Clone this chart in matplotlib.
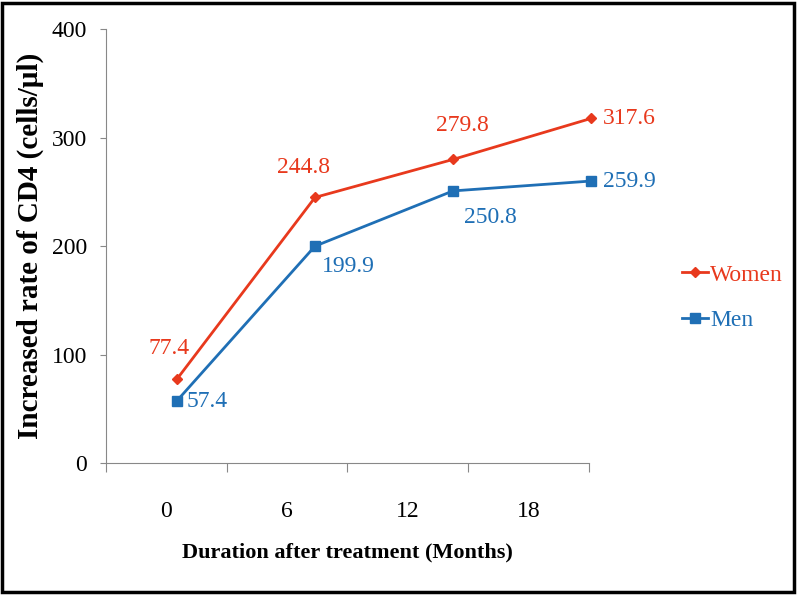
import matplotlib
matplotlib.use("Agg")
import matplotlib.pyplot as plt
from matplotlib.patches import Rectangle

plt.rcParams['font.family'] = ['Liberation Serif', 'DejaVu Serif']

months = ['0', '6', '12', '18']
women = [77.4, 244.8, 279.8, 317.6]
men = [57.4, 199.9, 250.8, 259.9]

# label offsets in pixels (dx, dy) for each point
women_off = [(-8, 31), (-11, 30), (9, 34), (12, 0)]
men_off = [(30, -1), (33, -20), (37, -27), (12, 0)]

red = '#E8391D'
blue = '#1F6FB5'

fig = plt.figure(figsize=(7.98, 5.95), dpi=100)
ax = fig.add_axes([0.1328, 0.2218, 0.6053, 0.7294])

# visible category axis
ax.set_xlim(-0.5, 3.5)
ax.set_ylim(0, 400)
ax.set_xticks([-0.5, 0.5, 1.5, 2.5, 3.5])
ax.set_xticklabels([])
ax.set_xticks(range(len(months)), minor=True)
ax.set_xticklabels(months, minor=True)
ax.tick_params(axis='x', which='major', direction='out', length=6.5, color='#888888')
ax.tick_params(axis='x', which='minor', length=0, pad=27, labelsize=17)
ax.set_yticks([0, 100, 200, 300, 400])
ax.tick_params(axis='y', direction='out', length=4.5, color='#888888', pad=9, labelsize=17)
for s in ['top', 'right']:
    ax.spines[s].set_visible(False)
for s in ['left', 'bottom']:
    ax.spines[s].set_color('#888888')

ax.set_ylabel('Increased rate of CD4 (cells/\u03bcl)', fontsize=21, fontweight='bold', labelpad=6)
ax.set_xlabel('Duration after treatment (Months)', fontsize=16, fontweight='bold', labelpad=15)

# data axis (markers sit on a slightly wider spacing than the tick labels)
ax2 = ax.twiny()
ax2.set_xlim(-0.5145, 2.9855)
ax2.set_ylim(0, 400)
ax2.axis('off')

x = range(len(months))
ax2.plot(x, women, color=red, linewidth=2, marker='D', markersize=5.5, label='Women', clip_on=False)
ax2.plot(x, men, color=blue, linewidth=2, marker='s', markersize=7, label='Men', clip_on=False)

for i in x:
    dx, dy = women_off[i]
    ha = 'left' if i == 3 else 'center'
    ax2.annotate(f'{women[i]:.1f}', (i, women[i]), xytext=(dx, dy), textcoords='offset pixels',
                 ha=ha, va='center', color=red, fontsize=17, annotation_clip=False)
    dx, dy = men_off[i]
    ax2.annotate(f'{men[i]:.1f}', (i, men[i]), xytext=(dx, dy), textcoords='offset pixels',
                 ha=ha, va='center', color=blue, fontsize=17, annotation_clip=False)

leg = fig.legend(loc='center left', bbox_to_anchor=(0.828, 0.5), frameon=False, fontsize=17,
                 handlelength=1.1, handletextpad=0.1, labelspacing=1.0)
for t, c in zip(leg.get_texts(), [red, blue]):
    t.set_color(c)

# outer frame
fig.patches.append(Rectangle((0.003, 0.005), 0.992, 0.99, transform=fig.transFigure,
                             fill=False, edgecolor='black', linewidth=2.5))

plt.savefig('out.png', dpi=100)
